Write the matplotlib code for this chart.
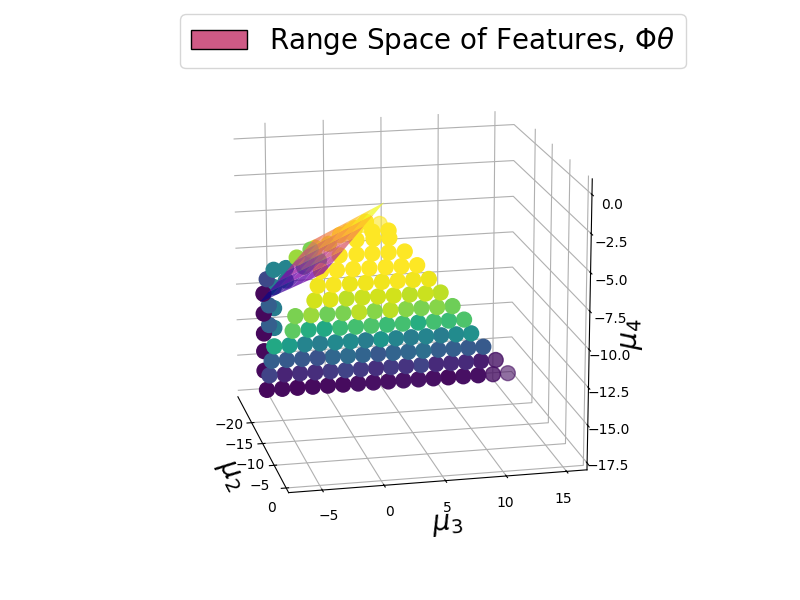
#!/usr/bin/env python3
"""Range space of features over the occupancy points (mu2, mu3, mu4)."""

import numpy as np
import matplotlib
matplotlib.use('Agg')
import matplotlib.pyplot as plt
from matplotlib.patches import Patch

# front layer of points, one list per row
front_mu2 = -20.0
front_rows_mu3 = [
    [-6.35, -5.04, -3.74, -2.43, -1.13, 0.18, 1.48, 2.79, 4.09, 5.40, 6.71, 8.01, 9.31, 10.62, 11.93],
    [-6.12, -4.82, -3.51, -2.20, -0.90, 0.41, 1.71, 3.02, 4.32, 5.63, 6.93, 8.24, 9.55, 10.85, 12.16],
    [-5.92, -4.62, -3.31, -2.00, -0.70, 0.61, 1.91, 3.22, 4.52, 5.83, 7.13, 8.44, 9.75, 11.05, 12.36],
    [-5.68, -4.38, -3.07, -1.77, -0.46, 0.85, 2.15, 3.46, 4.76, 6.07, 7.37, 8.68, 9.98, 11.29],
    [-4.10, -2.74, -1.39, -0.05, 1.30, 2.63, 3.99, 5.34, 6.68, 8.03, 9.33, 10.66],
    [-3.86, -2.51, -1.13, 0.23, 1.59, 2.92, 4.28, 5.63, 6.96, 8.32, 9.65],
    [-2.22, -0.86, 0.52, 1.88, 3.21, 4.56, 5.95, 7.31, 8.61],
    [-1.93, -0.58, 0.81, 2.17, 3.55, 4.91, 6.24, 7.59],
    [-1.64, -0.29, 1.10, 2.48, 3.88, 5.23, 6.58],
    [-0.05, 1.39, 2.74, 4.13, 5.51],
    [1.39, 2.84, 4.19],
    [2.74, 4.13],
]
front_rows_mu4 = [-15.75, -14.76, -13.77, -12.78, -11.79, -10.80, -9.81, -8.82, -7.83, -6.84, -5.85, -5.35]
front_rows_color = [
    [.02, .03, .02, .03, .03, .03, .04, .04, .04, .05, .05, .04, .03, .04, .04],
    [.20, .10, .13, .13, .17, .20, .17, .14, .17, .15, .20, .12, .12, .12, .08],
    [.30, .28, .27, .25, .33, .35, .32, .27, .32, .33, .36, .30, .30, .28, .28],
    [.60, .55, .45, .42, .47, .48, .42, .52, .45, .42, .45, .42, .48, .50],
    [.75, .62, .60, .68, .70, .72, .68, .70, .62, .70, .68, .72],
    [.80, .85, .78, .80, .90, .82, .90, .82, .80, .82, .78],
    [.93, .95, .90, .92, .93, .93, .90, .92, .90],
    [.98, .99, .97, .98, .98, .99, .98, .97],
    [1.0, 1.0, 1.0, 1.0, 1.0, 1.0, 1.0],
    [1.0, 1.0, 1.0, 1.0, 1.0],
    [1.0, 1.0, 1.0],
    [1.0, 1.0],
]

# points behind the front layer, most of them seen through the plane
back_mu2 = [-24.0] * 25
back_mu3 = [-5.8, -5.8, -5.8, -5.8, -5.8, -5.5, -4.9, -4.9, -4.9, -4.9, -5.35, -5.35,
            -3.84, -2.9, -2.0, -1.3, 0.85, 2.15,
            -3.86, -2.29, -0.99, -1.70, -0.12, 1.62, 3.10]
back_mu4 = [-15.53, -14.16, -12.92, -11.53, -10.15, -9.16, -11.20, -12.58, -9.73, -8.54, -12.35, -10.98,
            -8.47, -7.79, -8.24, -7.19, -6.40, -6.00,
            -9.33, -8.45, -8.10, -7.30, -6.97, -6.20, -5.60]
back_color = [.02, .02, .02, .02, .02, .22, .42, .42, .42, .45, .30, .30, .45, .85, .70, .95, 1.0, 1.0,
              .45, .60, .75, .80, .95, 1.0, 1.0]

# last points on the row ends, they look washed out
pale_mu2 = [-20.0, -20.0, -20.0]
pale_mu3 = [14.54, 1.94, 3.37]
pale_mu4 = [-15.75, -4.86, -4.86]
pale_color = [.04, 1.0, 1.0]

semi_mu2 = [-20.0, -20.0]
semi_mu3 = [13.23, 13.46]
semi_mu4 = [-15.75, -14.76]
semi_color = [.04, .05]

# plane of the features
plane_mu2 = -20.0
plane_mu3 = [
    [-6.89, -5.98, -5.07, -4.16, -3.25, -2.34, -1.43],
    [-6.12, -5.19, -4.27, -3.34, -2.42, -1.49, -0.57],
    [-5.34, -4.40, -3.46, -2.52, -1.58, -0.64, 0.30],
    [-4.57, -3.61, -2.66, -1.70, -0.75, 0.21, 1.17],
    [-3.80, -2.83, -1.86, -0.88, 0.09, 1.06, 2.03],
    [-3.02, -2.03, -1.05, -0.06, 0.93, 1.91, 2.90],
    [-2.25, -1.25, -0.25, 0.76, 1.76, 2.76, 3.76],
]
plane_mu4 = [
    [-9.71, -9.43, -9.14, -8.86, -8.57, -8.29, -8.00],
    [-9.04, -8.74, -8.44, -8.14, -7.84, -7.54, -7.24],
    [-8.37, -8.06, -7.74, -7.43, -7.11, -6.80, -6.48],
    [-7.70, -7.37, -7.04, -6.71, -6.37, -6.04, -5.71],
    [-7.02, -6.67, -6.33, -5.98, -5.63, -5.29, -4.94],
    [-6.35, -5.99, -5.63, -5.26, -4.90, -4.54, -4.18],
    [-5.68, -5.30, -4.93, -4.55, -4.17, -3.80, -3.42],
]

mu2_ticks = [-20, -15, -10, -5]
mu2_tick_labels = ['\u221220', '\u221215', '\u221210', '\u22125', '0']
mu3_ticks = [-5, 0, 5, 10, 15]
mu3_tick_labels = ['\u22125', '0', '5', '10', '15']
mu4_ticks = [0, -2.5, -5, -7.5, -10, -12.5, -15, -17.5]
mu4_tick_labels = ['0.0', '\u22122.5', '\u22125.0', '\u22127.5', '\u221210.0', '\u221212.5', '\u221215.0', '\u221217.5']

fig = plt.figure(figsize=(8, 6), dpi=100)
ax = fig.add_axes([0.1125, 0.1158, 0.775, 0.77], projection='3d')
ax.computed_zorder = False
ax.view_init(elev=16.5, azim=-12.5)
ax.set_proj_type('persp', focal_length=1.2)
ax.set_box_aspect((4, 4, 3.96), zoom=1.075)

front_x, front_y, front_z, front_c = [], [], [], []
for ys, z, cs in zip(front_rows_mu3, front_rows_mu4, front_rows_color):
    front_x += [front_mu2] * len(ys)
    front_y += ys
    front_z += [z] * len(ys)
    front_c += cs

all_x = back_mu2 + front_x
all_y = back_mu3 + front_y
all_z = back_mu4 + front_z
all_c = back_color + front_c

ax.scatter(pale_mu2, pale_mu3, pale_mu4, c=pale_color, cmap='viridis', vmin=0, vmax=1,
           s=115, alpha=0.6, depthshade=False, zorder=1)
ax.scatter(semi_mu2, semi_mu3, semi_mu4, c=semi_color, cmap='viridis', vmin=0, vmax=1,
           s=115, alpha=0.8, depthshade=False, zorder=2)
ax.scatter(all_x, all_y, all_z, c=all_c, cmap='viridis', vmin=0, vmax=1,
           s=115, depthshade=False, zorder=3)

Y = np.array(plane_mu3)
Z = np.array(plane_mu4)
X = np.full(Y.shape, plane_mu2)
ax.plot_surface(X, Y, Z, cmap='plasma', alpha=0.75, linewidth=0, antialiased=True, zorder=4)

ax.set_xlim(-26.5, -4.0)
ax.set_ylim(-7.7, 16.7)
ax.set_zlim(-17.96, 0.99)
ax.set_xticks(mu2_ticks)
ax.set_xticklabels([''] * len(mu2_ticks))
ax.set_yticks(mu3_ticks)
ax.set_yticklabels([''] * len(mu3_ticks))
ax.set_zticks(mu4_ticks)
ax.set_zticklabels([''] * len(mu4_ticks))

ax.set_xlabel(r'$\mu_2$', fontsize=20, labelpad=-2)
ax.set_ylabel(r'$\mu_3$', fontsize=20, labelpad=-2)
ax.set_zlabel(r'$\mu_4$', fontsize=20, labelpad=-2)

for axis in (ax.xaxis, ax.yaxis, ax.zaxis):
    axis.pane.fill = False
    axis.pane.set_edgecolor('none')

# tick labels go by hand, mplot3d pushes them off in another direction
# and the mu2 axis even has a 0 past the end of its line
for label, px, py in zip(mu2_tick_labels, [229, 239, 250, 260, 271], [425, 445, 465, 486, 508]):
    fig.text(px / 800, 1 - py / 600, label, ha='center', va='center', fontsize=10)
for label, px, py in zip(mu3_tick_labels, [329, 389, 447, 505, 563], [516, 512, 508, 503, 499]):
    fig.text(px / 800, 1 - py / 600, label, ha='center', va='center', fontsize=10)
for label, px, py in zip(mu4_tick_labels, [612, 611, 611, 610, 610, 609, 609, 608],
                         [205, 243, 281, 319, 356, 393, 430, 466]):
    fig.text(px / 800, 1 - py / 600, label, ha='center', va='center', fontsize=10)

handle = Patch(facecolor='#CE5A85', edgecolor='black', label=r'Range Space of Features, $\Phi\theta$')
fig.legend(handles=[handle], loc='upper right', fontsize=20,
           bbox_to_anchor=(686 / 800, 1 - 14 / 600), borderaxespad=0)

fig.savefig('out.png', dpi=100)
